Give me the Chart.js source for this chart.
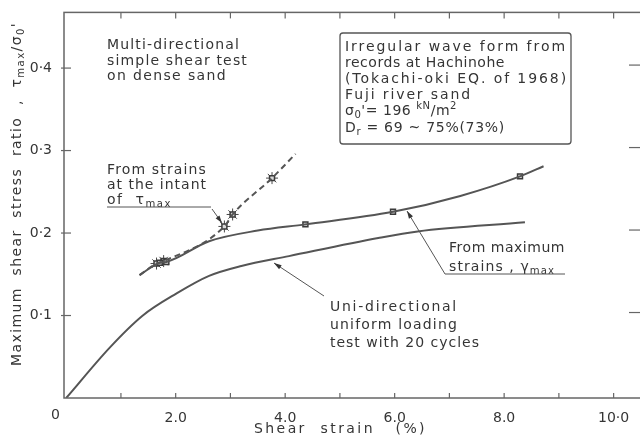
<!DOCTYPE html>
<html lang="en">
<head>
<meta charset="UTF-8">
<title>Shear stress ratio vs shear strain</title>
<script src="https://cdn.jsdelivr.net/npm/chart.js"></script>
<style>
  html, body { margin: 0; padding: 0; background: #fff; overflow: hidden; }
  canvas { display: block; }
</style>
</head>
<body>
<canvas id="myChart" width="648" height="438"></canvas>
<script>
// data (x = shear strain %, y = tau_max / sigma0')
var maxStrainX = [1.34, 1.71, 1.83, 2.61, 3.5, 4.37, 5.97, 7.2, 8.29, 8.72];
var maxStrainY = [0.149, 0.164, 0.165, 0.190, 0.203, 0.2105, 0.2257, 0.245, 0.2687, 0.281];
var maxMarkX = [1.71, 1.83, 4.37, 5.97, 8.29];
var maxMarkY = [0.164, 0.165, 0.2105, 0.2257, 0.2687];

var tauStrainX = [1.34, 1.65, 1.78, 2.89, 3.04, 3.76, 4.19];
var tauStrainY = [0.149, 0.163, 0.166, 0.208, 0.2225, 0.2666, 0.296];
var tauMarkX = [1.65, 1.78, 2.89, 3.04, 3.76];
var tauMarkY = [0.163, 0.166, 0.208, 0.2225, 0.2666];

var uniX = [0, 0.8, 1.4, 2.01, 2.61, 3.2, 4.07, 5.7, 6.42, 8.38];
var uniY = [0, 0.0614, 0.100, 0.1265, 0.148, 0.160, 0.172, 0.194, 0.202, 0.213];

var xLabels = {2: '2.0', 4: '4.0', 6: '6.0', 8: '8.0', 10: '10·0'};
var yLabels = {1: '0·1', 2: '0·2', 3: '0·3', 4: '0·4'};

function pts(xs, ys) {
    var out = [];
    for (var i = 0; i < xs.length; i++) out.push({x: xs[i], y: ys[i]});
    return out;
}

var INK = '#353535';
var LINE = '#555';
var FONT = '"DejaVu Sans"';

// text with sub/superscript parts, stretched to a given width
function rich(ctx, parts, x, y, width, size) {
    size = size || 14;
    var w = 0, n = 0;
    ctx.letterSpacing = '0px';
    parts.forEach(function(p) {
        var s = p.sub || p.sup ? size * 0.72 : size;
        ctx.font = s + 'px ' + FONT;
        w += ctx.measureText(p.t).width;
        n += p.t.length;
    });
    var ls = width ? (width - w) / n : 1.2;
    var cx = x;
    parts.forEach(function(p) {
        var s = p.sub || p.sup ? size * 0.72 : size;
        var dy = p.sub ? size * 0.3 : (p.sup ? -size * 0.35 : 0);
        ctx.font = s + 'px ' + FONT;
        ctx.letterSpacing = '0px';
        var pw = ctx.measureText(p.t).width;
        ctx.letterSpacing = ls + 'px';
        ctx.fillText(p.t, cx, y + dy);
        cx += pw + ls * p.t.length;
    });
    ctx.letterSpacing = '0px';
}

function line(ctx, x1, y1, x2, y2) {
    ctx.beginPath(); ctx.moveTo(x1, y1); ctx.lineTo(x2, y2); ctx.stroke();
}

function arrow(ctx, x1, y1, x2, y2) {
    line(ctx, x1, y1, x2, y2);
    var a = Math.atan2(y2 - y1, x2 - x1);
    ctx.beginPath();
    ctx.moveTo(x2, y2);
    ctx.lineTo(x2 - 8 * Math.cos(a - 0.3), y2 - 8 * Math.sin(a - 0.3));
    ctx.lineTo(x2 - 8 * Math.cos(a + 0.3), y2 - 8 * Math.sin(a + 0.3));
    ctx.closePath();
    ctx.fill();
}

var frame = {
    id: 'frame',
    afterDatasetsDraw: function(chart) {
        var ctx = chart.ctx, a = chart.chartArea;
        var xs = chart.scales.x, ys = chart.scales.y;
        ctx.save();
        ctx.strokeStyle = '#666';
        ctx.lineWidth = 1.5;
        ctx.strokeRect(a.left, a.top, a.right - a.left, a.bottom - a.top);
        ctx.lineWidth = 1.2;
        xs.ticks.forEach(function(t) {
            if (t.value <= 0) return;
            var px = xs.getPixelForValue(t.value);
            line(ctx, px, a.bottom, px, a.bottom - 5);
            line(ctx, px, a.top, px, a.top + 6);
        });
        ys.ticks.forEach(function(t) {
            if (t.value <= 0) return;
            var py = ys.getPixelForValue(t.value);
            line(ctx, a.left - 3, py, a.left + 7, py);
            line(ctx, a.right - 12, py - 3, a.right, py - 3);
        });
        ctx.restore();
    }
};

var notes = {
    id: 'notes',
    afterDraw: function(chart) {
        var ctx = chart.ctx;
        ctx.save();
        ctx.fillStyle = INK;
        ctx.strokeStyle = LINE;
        ctx.textBaseline = 'middle';
        ctx.textAlign = 'left';

        // corner zero
        ctx.font = '14px ' + FONT;
        ctx.fillText('0', 51, 415);

        // axis titles
        rich(ctx, [{t: 'Shear  strain   (%)'}], 254, 429, 173);
        ctx.save();
        ctx.translate(17, 366);
        ctx.rotate(-Math.PI / 2);
        rich(ctx, [{t: 'Maximum  shear  stress  ratio  ,  τ'}, {t: 'max', sub: true},
                   {t: '/σ'}, {t: '0', sub: true}, {t: "'"}], 0, 0, 344);
        ctx.restore();

        // test description
        rich(ctx, [{t: 'Multi-directional'}], 107, 45, 133);
        rich(ctx, [{t: 'simple shear test'}], 107, 61, 141);
        rich(ctx, [{t: 'on dense sand'}], 107, 76, 120);

        // box
        ctx.lineWidth = 1.3;
        ctx.beginPath();
        ctx.roundRect(340, 33, 231, 111, 3);
        ctx.stroke();
        rich(ctx, [{t: 'Irregular wave form from'}], 345, 47, 222);
        rich(ctx, [{t: 'records at Hachinohe'}], 345, 63, 160);
        rich(ctx, [{t: '(Tokachi-oki EQ. of 1968)'}], 345, 79, 223);
        rich(ctx, [{t: 'Fuji river sand'}], 345, 95, 127);
        rich(ctx, [{t: 'σ'}, {t: '0', sub: true}, {t: "'= 196 "}, {t: 'kN', sup: true},
                   {t: '/m'}, {t: '2', sup: true}], 345, 111, 112);
        rich(ctx, [{t: 'D'}, {t: 'r', sub: true}, {t: ' = 69 ~ 75%(73%)'}], 345, 128, 160);

        // strains at tau max
        rich(ctx, [{t: 'From strains'}], 107, 170, 100);
        rich(ctx, [{t: 'at the intant'}], 107, 185, 100);
        rich(ctx, [{t: 'of  τ'}, {t: 'max', sub: true}], 107, 200, 65);
        ctx.lineWidth = 1;
        line(ctx, 107, 207, 211, 207);
        arrow(ctx, 212, 209, 222, 223);

        // maximum strains
        rich(ctx, [{t: 'From maximum'}], 449, 248, 116);
        rich(ctx, [{t: 'strains , γ'}, {t: 'max', sub: true}], 449, 267, 106);
        line(ctx, 445, 274, 565, 274);
        arrow(ctx, 445, 274, 407, 211);

        // uni-directional
        rich(ctx, [{t: 'Uni-directional'}], 330, 307, 128);
        rich(ctx, [{t: 'uniform loading'}], 330, 325, 128);
        rich(ctx, [{t: 'test with 20 cycles'}], 330, 343, 150);
        arrow(ctx, 324, 296, 274, 263);
        ctx.restore();
    }
};

var lineStyle = {
    showLine: true,
    pointRadius: 0,
    borderColor: LINE,
    borderWidth: 2,
    cubicInterpolationMode: 'monotone'
};

var grafico = document.getElementById('myChart').getContext('2d');
var myChart = new Chart(grafico, {
    type: 'scatter',
    data: {
        datasets: [
            Object.assign({label: 'Uni-directional', data: pts(uniX, uniY)}, lineStyle),
            Object.assign({label: 'From maximum strains', data: pts(maxStrainX, maxStrainY)}, lineStyle),
            Object.assign({label: 'From strains at tau max', data: pts(tauStrainX, tauStrainY),
                           borderDash: [6, 4]}, lineStyle),
            {
                label: 'max markers', data: pts(maxMarkX, maxMarkY),
                pointStyle: 'rect', pointRadius: 3.5,
                backgroundColor: '#d8d8d8', borderColor: '#3a3a3a', borderWidth: 1.5
            },
            {
                label: 'tau markers', data: pts(tauMarkX, tauMarkY),
                pointStyle: 'rect', pointRadius: 3.5,
                backgroundColor: '#d8d8d8', borderColor: '#3a3a3a', borderWidth: 1.5
            },
            {
                label: 'tau stars', data: pts(tauMarkX, tauMarkY),
                pointStyle: 'star', pointRadius: 6,
                borderColor: '#4a4a4a', borderWidth: 1
            }
        ]
    },
    options: {
        responsive: false,
        animation: false,
        events: [],
        layout: { padding: { top: 10, right: 2, left: 0, bottom: 0 } },
        plugins: { legend: { display: false }, tooltip: { enabled: false } },
        scales: {
            x: {
                type: 'linear',
                min: -0.04,
                max: 10.5,
                grid: { display: false },
                border: { display: false },
                afterFit: function(s) { s.height = 40; },
                ticks: {
                    stepSize: 1,
                    includeBounds: false,
                    padding: 4,
                    color: INK,
                    font: { family: 'DejaVu Sans', size: 14 },
                    maxRotation: 0,
                    autoSkip: false,
                    callback: function(v) { return xLabels[Math.round(v)] || ''; }
                }
            },
            y: {
                type: 'linear',
                min: 0,
                max: 0.4675,
                grid: { display: false },
                border: { display: false },
                afterFit: function(s) { s.width = 64; },
                ticks: {
                    stepSize: 0.1,
                    includeBounds: false,
                    padding: 4,
                    color: INK,
                    font: { family: 'DejaVu Sans', size: 14 },
                    callback: function(v) { return yLabels[Math.round(v * 10)] || ''; }
                }
            }
        }
    },
    plugins: [frame, notes]
});
</script>
</body>
</html>
